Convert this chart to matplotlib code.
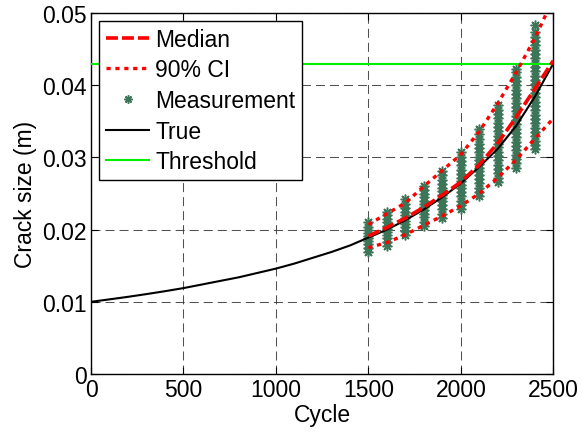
import numpy as np
import matplotlib
matplotlib.use("Agg")
import matplotlib.pyplot as plt

plt.rcParams['font.family'] = ['Liberation Sans', 'DejaVu Sans']
plt.rcParams['lines.scale_dashes'] = False

# true crack growth
cycles_true = [0, 100, 200, 300, 400, 500, 600, 700, 800, 900, 1000, 1100, 1200,
               1300, 1400, 1500, 1600, 1700, 1800, 1900, 2000, 2100, 2200, 2300, 2400, 2500]
crack_true = [0.0100, 0.01034, 0.01069, 0.01107, 0.01147, 0.0119, 0.0124, 0.0129, 0.0134,
              0.0140, 0.0146, 0.0153, 0.0161, 0.0169, 0.0178, 0.0189, 0.0200, 0.0213,
              0.0228, 0.0245, 0.0264, 0.0287, 0.0312, 0.0344, 0.0384, 0.0430]

# prediction (median and 90% CI)
cycles_pred = [1500, 1600, 1700, 1800, 1900, 2000, 2100, 2200, 2300, 2400, 2500]
crack_median = [0.0191, 0.0203, 0.0216, 0.0231, 0.0248, 0.0266, 0.0290, 0.0320, 0.0356, 0.0395, 0.0434]
crack_upper = [0.0207, 0.0222, 0.0237, 0.0260, 0.0282, 0.0304, 0.0336, 0.0375, 0.0418, 0.0465, 0.0520]
crack_lower = [0.0175, 0.0182, 0.0193, 0.0206, 0.0219, 0.0233, 0.0250, 0.0272, 0.0297, 0.0326, 0.0354]

threshold = 0.0429

# measured crack sizes at each inspection cycle
meas = {
    1500: [0.0169, 0.0175, 0.0180, 0.0184, 0.0188, 0.0191, 0.0195, 0.0199, 0.0204, 0.0210],
    1600: [0.0177, 0.0183, 0.0188, 0.0193, 0.0197, 0.0201, 0.0205, 0.0210, 0.0215, 0.0220, 0.0225],
    1700: [0.0192, 0.0198, 0.0203, 0.0208, 0.0212, 0.0216, 0.0220, 0.0225, 0.0230, 0.0236, 0.0242],
    1800: [0.0205, 0.0211, 0.0217, 0.0222, 0.0227, 0.0231, 0.0235, 0.0240, 0.0245, 0.0250,
           0.0255, 0.0261],
    1900: [0.0216, 0.0222, 0.0228, 0.0234, 0.0239, 0.0244, 0.0248, 0.0253, 0.0258, 0.0263,
           0.0269, 0.0275, 0.0281],
    2000: [0.0228, 0.0234, 0.0240, 0.0246, 0.0252, 0.0257, 0.0262, 0.0267, 0.0272, 0.0277,
           0.0283, 0.0289, 0.0295, 0.0301, 0.0308],
    2100: [0.0246, 0.0252, 0.0258, 0.0264, 0.0270, 0.0276, 0.0281, 0.0286, 0.0291, 0.0296,
           0.0301, 0.0307, 0.0313, 0.0319, 0.0326, 0.0333, 0.0340],
    2200: [0.0266, 0.0272, 0.0278, 0.0284, 0.0290, 0.0296, 0.0302, 0.0308, 0.0314, 0.0319,
           0.0324, 0.0330, 0.0336, 0.0342, 0.0348, 0.0354, 0.0360, 0.0366, 0.0373],
    2300: [0.0286, 0.0292, 0.0298, 0.0304, 0.0310, 0.0316, 0.0322, 0.0328, 0.0334, 0.0340,
           0.0346, 0.0352, 0.0358, 0.0364, 0.0370, 0.0376, 0.0382, 0.0388, 0.0394, 0.0400,
           0.0406, 0.0412, 0.0418, 0.0423],
    2400: [0.0311, 0.0317, 0.0323, 0.0329, 0.0335, 0.0341, 0.0347, 0.0353, 0.0359, 0.0365,
           0.0371, 0.0377, 0.0383, 0.0389, 0.0395, 0.0401, 0.0407, 0.0413, 0.0419, 0.0425,
           0.0431, 0.0437, 0.0443, 0.0449, 0.0455, 0.0461, 0.0467, 0.0474, 0.0483],
}

xticks = [0, 500, 1000, 1500, 2000, 2500]
yticks = [0, 0.01, 0.02, 0.03, 0.04, 0.05]
ytick_labels = ['0', '0.01', '0.02', '0.03', '0.04', '0.05']

fig = plt.figure(figsize=(5.82, 4.35), dpi=100)
ax = fig.add_axes([0.1564, 0.1379, 0.7943, 0.8299])

meas_color = '#3d7559'
mx = np.concatenate([np.full(len(v), c) for c, v in meas.items()])
my = np.concatenate([v for v in meas.values()])

h_med, = ax.plot(cycles_pred, crack_median, color='red', lw=2.6,
                 linestyle=(0, (8.6, 2.9)), zorder=5)
h_ci, = ax.plot(cycles_pred, crack_upper, color='red', lw=2.4,
                linestyle=(0, (3.0, 3.4)), zorder=5)
ax.plot(cycles_pred, crack_lower, color='red', lw=2.4,
        linestyle=(0, (3.0, 3.4)), zorder=5)
h_meas, = ax.plot(mx, my, linestyle='none', marker=(8, 2, 0), markersize=7,
                  markeredgewidth=1.1, color=meas_color, zorder=2)
h_true, = ax.plot(cycles_true, crack_true, color='black', lw=1.5, zorder=4)
h_thr = ax.axhline(threshold, color='#00ee00', lw=1.5, zorder=3)

ax.set_xlim(0, 2500)
ax.set_ylim(0, 0.05)
ax.set_xticks(xticks)
ax.set_yticks(yticks)
ax.set_yticklabels(ytick_labels)
ax.tick_params(direction='in', length=5, width=0.8, labelsize=16.5, pad=3,
               top=True, right=True)
ax.grid(True, color='#333333', linestyle=(0, (6.5, 3.6)), lw=0.75, alpha=0.85)
for s in ax.spines.values():
    s.set_linewidth(1.0)

ax.set_xlabel('Cycle', fontsize=16.5, labelpad=1)
ax.set_ylabel('Crack size (m)', fontsize=16.5, labelpad=4)

leg = ax.legend([h_med, h_ci, h_meas, h_true, h_thr],
                ['Median', '90% CI', 'Measurement', 'True', 'Threshold'],
                loc='upper left', fontsize=16.5, frameon=True, fancybox=False,
                framealpha=1, edgecolor='black', handlelength=1.9,
                handletextpad=0.25, labelspacing=0.33, borderpad=0.3,
                borderaxespad=0.35, markerscale=0.85)
leg.get_frame().set_linewidth(1.0)

fig.savefig('out.png', dpi=100)
